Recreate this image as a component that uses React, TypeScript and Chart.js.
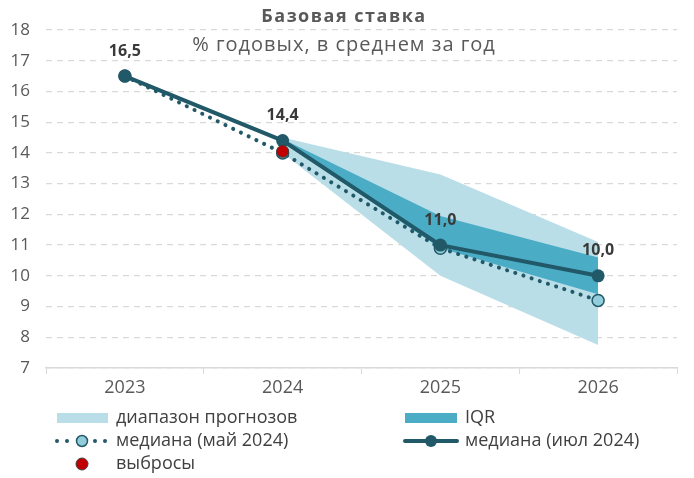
import React, { useEffect, useRef } from "react";
import { Chart, registerables } from "chart.js";

Chart.register(...registerables);

const years = ["2023", "2024", "2025", "2026"];
const rangeLow = [null, 14.0, 10.0, 7.75];
const rangeHigh = [null, 14.5, 13.3, 11.1];
const iqrLow = [null, 14.35, 10.9, 9.4];
const iqrHigh = [null, 14.45, 11.95, 10.6];
const medianMay = [16.5, 14.0, 10.9, 9.2];
const medianJul = [16.5, 14.4, 11.0, 10.0];
const outliers = [null, 14.05, null, null];
const yTicks = [7, 8, 9, 10, 11, 12, 13, 14, 15, 16, 17, 18];

const titleText = "Базовая ставка";
const subtitleText = "% годовых, в среднем за год";
const legendLabels = ["диапазон прогнозов", "IQR", "медиана (май 2024)", "медиана (июл 2024)", "выбросы"];

const FONT = "'Open Sans', 'Noto Sans', sans-serif";
const C_LIGHT = "#b9dee8";
const C_IQR = "#4bacc6";
const C_DARK = "#215968";
const C_MAY = "#92cddc";
const C_RED = "#c00000";
const C_TEXT = "#404040";
const C_TICK = "#595959";

const overlayPlugin = {
  id: "overlay",
  afterDraw(chart: any) {
    const ctx = chart.ctx;
    ctx.save();
    // titles
    ctx.textAlign = "center";
    ctx.textBaseline = "middle";
    ctx.fillStyle = C_TICK;
    ctx.font = `bold 18px ${FONT}`;
    ctx.letterSpacing = "1.5px";
    ctx.fillText(titleText, 344, 17);
    ctx.font = `20px ${FONT}`;
    ctx.letterSpacing = "1px";
    ctx.fillText(subtitleText, 344, 45);
    ctx.letterSpacing = "0px";

    // data labels for July median
    const meta = chart.getDatasetMeta(5);
    ctx.font = `bold 16px ${FONT}`;
    ctx.fillStyle = "#3a3a3a";
    meta.data.forEach((pt: any, i: number) => {
      const v = medianJul[i];
      if (v == null) return;
      ctx.fillText(v.toFixed(1).replace(".", ","), pt.x, pt.y - 25);
    });

    // legend
    const r1 = 418, r2 = 441, r3 = 464;
    ctx.textAlign = "left";
    ctx.font = `18px ${FONT}`;
    ctx.fillStyle = C_LIGHT;
    ctx.fillRect(57, r1 - 5, 51, 10);
    ctx.fillStyle = C_IQR;
    ctx.fillRect(405, r1 - 5, 52, 10);
    ctx.fillStyle = C_TEXT;
    ctx.fillText(legendLabels[0], 116, r1);
    ctx.fillText(legendLabels[1], 465, r1);
    ctx.fillText(legendLabels[2], 116, r2);
    ctx.fillText(legendLabels[3], 465, r2);
    ctx.fillText(legendLabels[4], 116, r3);

    // dotted legend sample
    ctx.fillStyle = C_DARK;
    [57, 67, 95, 105].forEach((x) => {
      ctx.beginPath();
      ctx.arc(x, r2, 2, 0, Math.PI * 2);
      ctx.fill();
    });
    ctx.beginPath();
    ctx.arc(82, r2, 5.5, 0, Math.PI * 2);
    ctx.fillStyle = C_MAY;
    ctx.fill();
    ctx.lineWidth = 1.5;
    ctx.strokeStyle = C_DARK;
    ctx.stroke();

    // solid legend sample
    ctx.beginPath();
    ctx.moveTo(405, r2);
    ctx.lineTo(457, r2);
    ctx.lineWidth = 4;
    ctx.lineCap = "round";
    ctx.strokeStyle = C_DARK;
    ctx.stroke();
    ctx.beginPath();
    ctx.arc(431, r2, 6, 0, Math.PI * 2);
    ctx.fillStyle = C_DARK;
    ctx.fill();

    // outlier sample
    ctx.beginPath();
    ctx.arc(82, r3, 6, 0, Math.PI * 2);
    ctx.fillStyle = C_RED;
    ctx.fill();
    ctx.lineWidth = 1;
    ctx.strokeStyle = "#404040";
    ctx.stroke();
    ctx.restore();
  },
};

export default function App() {
  const ref = useRef<HTMLCanvasElement>(null);
  useEffect(() => {
    const chart = new Chart(ref.current as HTMLCanvasElement, {
      type: "line",
      data: {
        labels: years,
        datasets: [
          { label: "rangeLow", data: rangeLow, borderWidth: 0, borderColor: "rgba(0,0,0,0)", pointRadius: 0, fill: false, order: 6 },
          { label: "rangeHigh", data: rangeHigh, borderWidth: 0, borderColor: "rgba(0,0,0,0)", backgroundColor: C_LIGHT, pointRadius: 0, fill: 0, order: 5 },
          { label: "iqrLow", data: iqrLow, borderWidth: 0, borderColor: "rgba(0,0,0,0)", pointRadius: 0, fill: false, order: 4 },
          { label: "iqrHigh", data: iqrHigh, borderWidth: 0, borderColor: "rgba(0,0,0,0)", backgroundColor: C_IQR, pointRadius: 0, fill: 2, order: 3 },
          {
            label: legendLabels[2], data: medianMay, borderColor: C_DARK, borderWidth: 4,
            borderDash: [0.1, 8.5], borderCapStyle: "round", pointRadius: 6,
            pointBackgroundColor: C_MAY, pointBorderColor: C_DARK, pointBorderWidth: 1.5, fill: false, order: 2,
          },
          {
            label: legendLabels[3], data: medianJul, borderColor: C_DARK, borderWidth: 4,
            pointRadius: 6.5, pointBackgroundColor: C_DARK, pointBorderColor: C_DARK, pointBorderWidth: 0, fill: false, order: 1,
          },
          {
            label: legendLabels[4], data: outliers, showLine: false, pointRadius: 6,
            pointBackgroundColor: C_RED, pointBorderColor: "#404040", pointBorderWidth: 1, order: 0,
          },
        ],
      },
      options: {
        animation: false,
        responsive: false,
        events: [],
        layout: { padding: { top: 30, right: 17, left: 0, bottom: 0 } },
        plugins: { legend: { display: false }, tooltip: { enabled: false }, title: { display: false } },
        scales: {
          x: {
            offset: true,
            grid: { display: true, drawOnChartArea: false, offset: true, tickLength: 6, color: "#d9d9d9" },
            border: { display: true, color: "#d9d9d9", width: 1.5 },
            ticks: { color: C_TICK, font: { family: FONT, size: 18 }, padding: 3 },
            afterFit: (s: any) => { s.height = 110; },
          },
          y: {
            min: 7,
            max: 18,
            afterBuildTicks: (s: any) => { s.ticks = yTicks.map((v) => ({ value: v })); },
            grid: { color: "#d9d9d9", drawTicks: false, lineWidth: 1.3 },
            border: { display: false, dash: [6, 5] },
            ticks: { color: C_TICK, font: { family: FONT, size: 17 }, padding: 16 },
            afterFit: (s: any) => { s.width = 46; },
          },
        },
      },
      plugins: [overlayPlugin],
    } as any);
    return () => chart.destroy();
  }, []);
  return (
    <div style={{ position: "fixed", left: 0, top: 0, width: 694, height: 478, background: "#fff" }}>
      <canvas ref={ref} width={694} height={478} style={{ display: "block" }} />
    </div>
  );
}
